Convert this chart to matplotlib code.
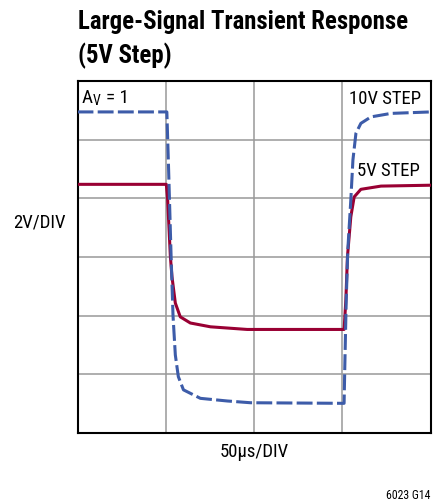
import matplotlib
matplotlib.use("Agg")
import matplotlib.pyplot as plt

plt.rcParams['font.family'] = ['Roboto Condensed', 'Liberation Sans', 'DejaVu Sans']

# time in us, output in volts
t_5v = [0, 50.3, 51.0, 52.6, 53.5, 55.4, 58.2, 63.9, 75.3, 96.1,
        151.0, 152.0, 152.9, 154.8, 156.7, 160.5, 171.9, 200]
v_5v = [2.48, 2.48, 2.01, 0.01, -0.67, -1.57, -2.04, -2.25, -2.38, -2.47,
        -2.47, -1.47, 0.01, 1.37, 2.05, 2.31, 2.42, 2.45]

t_10v = [0, 50.6, 51.6, 53.0, 54.1, 55.4, 57.1, 60.0, 69.6, 84.8, 98.0,
         151.0, 151.4, 152.2, 153.1, 154.8, 156.0, 157.7, 160.5, 166.2, 177.6, 200]
v_10v = [4.95, 4.95, 2.97, 0.03, -2.01, -3.34, -4.08, -4.53, -4.82, -4.91, -4.97,
         -4.99, -3.74, -1.47, 0.24, 1.94, 3.31, 4.22, 4.56, 4.78, 4.90, 4.95]

x_ticks = [0, 50, 100, 150, 200]
y_ticks = [-6, -4, -2, 0, 2, 4, 6]

red = '#990033'
blue = '#3d5ca9'

fig = plt.figure(figsize=(4.43, 5.04), dpi=100)
ax = fig.add_axes([0.175, 0.141, 0.797, 0.698])

ax.plot(t_5v, v_5v, color=red, lw=2.2, zorder=3)
ax.plot(t_10v, v_10v, color=blue, lw=2.2, dashes=(5.2, 1.4), zorder=4)

ax.set_xlim(0, 200)
ax.set_ylim(-6, 6)
ax.set_xticks(x_ticks)
ax.set_yticks(y_ticks)
ax.tick_params(length=0, labelbottom=False, labelleft=False)
ax.grid(color='#999999', lw=1.1)
for s in ax.spines.values():
    s.set_linewidth(1.5)

ax.text(2.4, 5.26, 'A', fontsize=13.8, va='baseline')
ax.text(8.8, 5.18, 'V', fontsize=10, va='baseline')
ax.text(16.4, 5.26, '= 1', fontsize=13.8, va='baseline')
ax.text(153.7, 5.21, '10V STEP', fontsize=13.5, va='baseline')
ax.text(158.2, 2.76, '5V STEP', fontsize=13.5, va='baseline')

fig.text(78 / 443, 0.942, 'Large-Signal Transient Response', fontsize=17.8,
         fontweight='bold', va='baseline')
fig.text(78 / 443, 0.874, '(5V Step)', fontsize=17.8, fontweight='bold', va='baseline')
fig.text(66 / 443, 0.548, '2V/DIV', fontsize=13.5, ha='right', va='baseline')
fig.text(254 / 443, 0.094, '50\u00b5s/DIV', fontsize=13.5, ha='center', va='baseline')
fig.text(430 / 443, 0.0093, '6023 G14', fontsize=8.5, ha='right', va='baseline')

fig.savefig('out.png', dpi=100)
